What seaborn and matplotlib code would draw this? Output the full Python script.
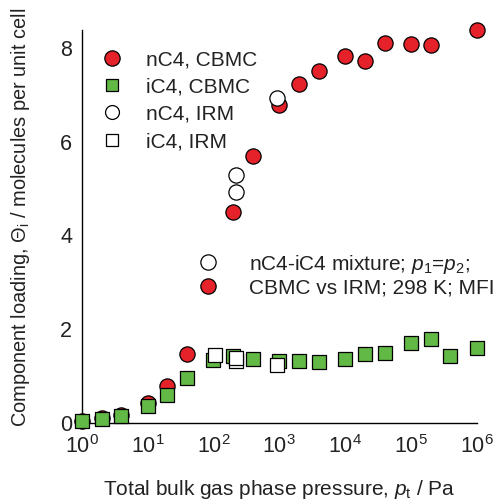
import numpy as np
import pandas as pd
import matplotlib
matplotlib.use("Agg")
import matplotlib.pyplot as plt
import seaborn as sns
from matplotlib.ticker import MultipleLocator, LogLocator, NullFormatter
from matplotlib.lines import Line2D

# ---- data ----
p_nc4_cbmc = [1, 2, 4, 10, 20, 40, 200, 400, 1000, 2000, 4000, 1e4, 2e4, 4e4, 1e5, 2e5, 1e6]
q_nc4_cbmc = [0.05, 0.1, 0.18, 0.43, 0.78, 1.48, 4.50, 5.70, 6.78, 7.23, 7.51, 7.82, 7.72, 8.10, 8.08, 8.06, 8.39]

p_ic4_cbmc = [1, 2, 4, 10, 20, 40, 100, 200, 400, 1000, 2000, 4000, 1e4, 2e4, 4e4, 1e5, 2e5, 4e5, 1e6]
q_ic4_cbmc = [0.04, 0.09, 0.14, 0.36, 0.59, 0.95, 1.35, 1.42, 1.37, 1.32, 1.32, 1.30, 1.37, 1.47, 1.50, 1.70, 1.79, 1.43, 1.60]

p_nc4_irm = [223, 218, 930]
q_nc4_irm = [5.28, 4.93, 6.92]

p_ic4_irm = [107, 223, 223, 930]
q_ic4_irm = [1.45, 1.33, 1.38, 1.23]

labels = ["nC4, CBMC", "iC4, CBMC", "nC4, IRM", "iC4, IRM"]
note_labels = [r"nC4-iC4 mixture; $p_1$=$p_2$;", "CBMC vs IRM; 298 K; MFI"]

RED = "#E5222A"
GREEN = "#63B946"
TXT = "#222222"

sns.set_style("white")
plt.rcParams['font.family'] = ['Liberation Sans', 'DejaVu Sans']
plt.rcParams['mathtext.fontset'] = 'custom'
plt.rcParams['mathtext.rm'] = 'Liberation Sans'
plt.rcParams['mathtext.it'] = 'Liberation Sans:italic'
plt.rcParams['mathtext.bf'] = 'Liberation Sans:bold'

fig = plt.figure(figsize=(4.96, 5.0), dpi=100)
ax = fig.add_axes([0.165, 0.154, 0.796, 0.786])

df1 = pd.DataFrame({"p": p_nc4_cbmc, "q": q_nc4_cbmc})
df2 = pd.DataFrame({"p": p_ic4_cbmc, "q": q_ic4_cbmc})
df3 = pd.DataFrame({"p": p_nc4_irm, "q": q_nc4_irm})
df4 = pd.DataFrame({"p": p_ic4_irm, "q": q_ic4_irm})

sz_c = 120
sz_s = 100
sns.scatterplot(data=df1, x="p", y="q", ax=ax, marker="o", s=sz_c, color=RED,
                edgecolor="black", linewidth=0.9, clip_on=False, zorder=3)
sns.scatterplot(data=df2, x="p", y="q", ax=ax, marker="s", s=sz_s, color=GREEN,
                edgecolor="black", linewidth=0.9, clip_on=False, zorder=4)
sns.scatterplot(data=df3, x="p", y="q", ax=ax, marker="o", s=sz_c, color="white",
                edgecolor="black", linewidth=0.9, clip_on=False, zorder=5)
sns.scatterplot(data=df4, x="p", y="q", ax=ax, marker="s", s=sz_s, color="white",
                edgecolor="black", linewidth=0.9, clip_on=False, zorder=6)

ax.set_xscale("log")
ax.set_xlim(1, 1e6)
ax.set_ylim(0, 8.38)

for s in ["top", "right"]:
    ax.spines[s].set_visible(False)
for s in ["left", "bottom"]:
    ax.spines[s].set_color("black")
    ax.spines[s].set_linewidth(1.0)

ax.yaxis.set_major_locator(MultipleLocator(2))
ax.yaxis.set_minor_locator(MultipleLocator(0.4))
ax.xaxis.set_major_locator(LogLocator(base=10, numticks=10))
ax.xaxis.set_minor_locator(LogLocator(base=10, subs=np.arange(2, 10), numticks=20))
ax.xaxis.set_minor_formatter(NullFormatter())
ax.tick_params(which="major", direction="in", length=8, width=1, labelsize=15.5, color="black")
ax.tick_params(which="minor", direction="in", length=5, width=1, color="black")
ax.tick_params(axis="x", which="major", pad=9)
ax.tick_params(axis="y", which="major", pad=7)

ax.set_xlabel(r"Total bulk gas phase pressure, $p_\mathrm{t}$ / Pa", fontsize=15, color=TXT)
ax.set_ylabel(r"Component loading, $\Theta_\mathrm{i}$ / molecules per unit cell", fontsize=14.4, color=TXT)
ax.xaxis.set_label_coords(0.5, -0.14)
ax.yaxis.set_label_coords(-0.125, 0.523)

h1 = [
    Line2D([], [], marker="o", ls="none", markersize=11, markerfacecolor=RED, markeredgecolor="black", markeredgewidth=0.9),
    Line2D([], [], marker="s", ls="none", markersize=8, markerfacecolor=GREEN, markeredgecolor="black", markeredgewidth=0.9),
    Line2D([], [], marker="o", ls="none", markersize=10, markerfacecolor="white", markeredgecolor="black", markeredgewidth=0.9),
    Line2D([], [], marker="s", ls="none", markersize=8, markerfacecolor="white", markeredgecolor="black", markeredgewidth=0.9),
]
leg1 = ax.legend(h1, labels, loc="upper left", bbox_to_anchor=(0.03, 0.97), frameon=False,
                 fontsize=15, handletextpad=1.1, labelspacing=0.4, handlelength=1.0,
                 borderaxespad=0.0)
for t in leg1.get_texts():
    t.set_color(TXT)
ax.add_artist(leg1)

h2 = [
    Line2D([], [], marker="o", ls="none", markersize=11, markerfacecolor="white", markeredgecolor="black", markeredgewidth=0.9),
    Line2D([], [], marker="o", ls="none", markersize=11, markerfacecolor=RED, markeredgecolor="black", markeredgewidth=0.9),
]
leg2 = ax.legend(h2, note_labels,
                 loc="upper left", bbox_to_anchor=(0.272, 0.455), frameon=False,
                 fontsize=15, handletextpad=1.45, labelspacing=0.15, handlelength=1.0,
                 borderaxespad=0.0)
for t in leg2.get_texts():
    t.set_color(TXT)

for lab in ax.get_xticklabels() + ax.get_yticklabels():
    lab.set_color(TXT)

fig.savefig("out.png", dpi=100)
